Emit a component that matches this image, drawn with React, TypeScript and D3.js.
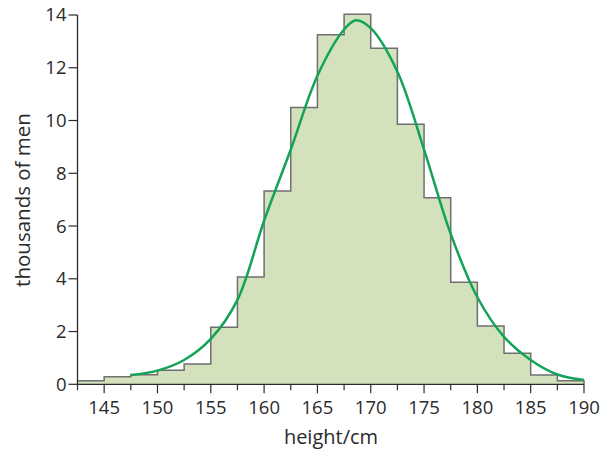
import React from "react";
import * as d3 from "d3";

// bin edges every 2.5 cm, counts in thousands of men
const binStarts = [142.5, 145, 147.5, 150, 152.5, 155, 157.5, 160, 162.5, 165, 167.5, 170, 172.5, 175, 177.5, 180, 182.5, 185, 187.5];
const binCounts = [0.13, 0.29, 0.36, 0.53, 0.77, 2.16, 4.07, 7.33, 10.49, 13.25, 14.03, 12.74, 9.86, 7.07, 3.87, 2.21, 1.18, 0.35, 0.13];

// fitted curve
const curveX = [147.5, 150, 152.5, 155, 157.5, 160, 162.5, 165, 167.5, 168.6, 170, 172.5, 175, 177.5, 180, 182.5, 185, 187.5, 190];
const curveY = [0.35, 0.52, 0.92, 1.72, 3.2, 6.2, 8.9, 11.7, 13.45, 13.8, 13.5, 11.85, 8.9, 5.7, 3.3, 1.8, 0.92, 0.37, 0.16];

const xMajor = [145, 150, 155, 160, 165, 170, 175, 180, 185, 190];
const xMinor = [142.5, 147.5, 152.5, 157.5, 162.5, 167.5, 172.5, 177.5, 182.5, 187.5];
const yTicks = [0, 2, 4, 6, 8, 10, 12, 14];

const width = 602;
const height = 453;
const binWidth = 2.5;

export default function App() {
  const x = d3.scaleLinear().domain([142.5, 190]).range([77.5, 584]);
  const y = d3.scaleLinear().domain([0, 14]).range([384.3, 15]);

  const steps: [number, number][] = binStarts.map((s, i) => [s, binCounts[i]]);
  const last = binStarts[binStarts.length - 1] + binWidth;
  steps.push([last, binCounts[binCounts.length - 1]]);

  const area = d3
    .area<[number, number]>()
    .x((d) => x(d[0]))
    .y0(y(0))
    .y1((d) => y(d[1]))
    .curve(d3.curveStepAfter);

  const outline = d3
    .line<[number, number]>()
    .x((d) => x(d[0]))
    .y((d) => y(d[1]))
    .curve(d3.curveStepAfter);

  const fitted = d3
    .line<number>()
    .x((d) => x(d))
    .y((d, i) => y(curveY[i]))
    .curve(d3.curveCatmullRom.alpha(0.5));

  const font = "'Open Sans', 'Noto Sans', sans-serif";
  const ink = "#2b2b2b";

  return (
    <svg
      width={width}
      height={height}
      style={{ position: "absolute", left: 0, top: 0, background: "#fff" }}
      fontFamily={font}
    >
      {/* bars */}
      <path d={area(steps) || ""} fill="#d3e2bd" />
      <path
        d={(outline(steps) || "") + `L${x(last)},${y(0)}`}
        fill="none"
        stroke="#6f6f6f"
        strokeWidth={1.5}
      />

      {/* fitted curve */}
      <path d={fitted(curveX) || ""} fill="none" stroke="#13a356" strokeWidth={2.5} />

      {/* x axis */}
      <g>
        <line x1={x(142.5)} x2={x(190)} y1={y(0)} y2={y(0)} stroke={ink} strokeWidth={1.3} />
        {xMinor.map((t) => (
          <line key={"m" + t} x1={x(t)} x2={x(t)} y1={y(0)} y2={y(0) + 6} stroke={ink} strokeWidth={1.2} />
        ))}
        {xMajor.map((t) => (
          <g key={t}>
            <line x1={x(t)} x2={x(t)} y1={y(0)} y2={y(0) + 9} stroke={ink} strokeWidth={1.2} />
            <text x={x(t)} y={y(0) + 30} textAnchor="middle" fontSize={18.5} fill={ink}>
              {t}
            </text>
          </g>
        ))}
        <text x={331} y={444} textAnchor="middle" fontSize={20} fill={ink}>
          height/cm
        </text>
      </g>

      {/* y axis */}
      <g>
        <line x1={x(142.5)} x2={x(142.5)} y1={y(0)} y2={y(14)} stroke={ink} strokeWidth={1.3} />
        {yTicks.map((t) => (
          <g key={t}>
            <line x1={x(142.5) - 9} x2={x(142.5)} y1={y(t)} y2={y(t)} stroke={ink} strokeWidth={1.2} />
            <text x={x(142.5) - 11} y={y(t)} dy="0.35em" textAnchor="end" fontSize={18.5} fill={ink}>
              {t}
            </text>
          </g>
        ))}
        <text
          transform="translate(30,200) rotate(-90)"
          textAnchor="middle"
          fontSize={20.5}
          fill={ink}
        >
          thousands of men
        </text>
      </g>
    </svg>
  );
}
